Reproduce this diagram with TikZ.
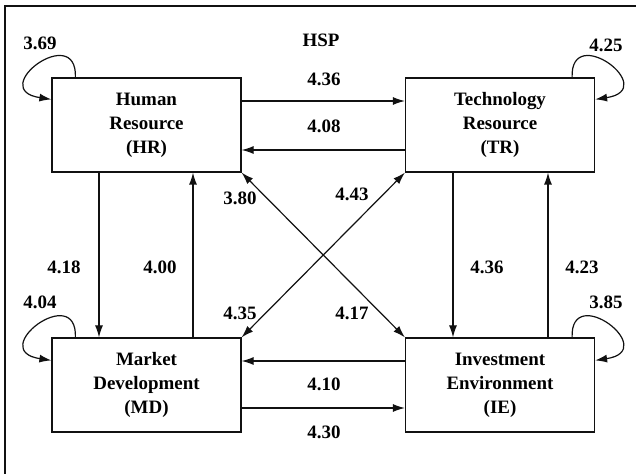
\documentclass[tikz,border=0pt]{standalone}
\usepackage{fontspec}
\setmainfont{Liberation Serif}
\usepackage{xcolor}
\usetikzlibrary{arrows.meta,calc}
\definecolor{hspInk}{HTML}{111111}
\tikzset{
  block/.style={draw=hspInk, line width=1.2bp, minimum width=189bp, minimum height=94bp,
    align=center, inner sep=0pt, font=\bfseries\fontsize{19}{24}\selectfont},
  val/.style={inner sep=0pt, font=\bfseries\fontsize{19}{22}\selectfont},
  link/.style={->, line width=1.2bp, draw=hspInk},
}

\begin{document}
\begin{tikzpicture}[x=1bp, y=-1bp, >={Latex[length=12bp,width=8bp]}]
    \useasboundingbox (0,0) rectangle (636,474);
    \draw[line width=1.1bp, hspInk] (5,474) -- (5,6) -- (636,6);
    \node[val] (title) at (321,40) {HSP};
    % the four factors
    \node[block] (HR) at (146.5,125) {Human\\Resource\\(HR)};
    \node[block] (TR) at (500,125) {Technology\\Resource\\(TR)};
    \node[block] (MD) at (146.5,385) {Market\\Development\\(MD)};
    \node[block] (IE) at (500,385) {Investment\\Environment\\(IE)};
    % horizontal links
    \draw[link] ([yshift=24bp]HR.east) -- ([yshift=24bp]TR.west);
    \draw[link] ([yshift=-25bp]TR.west) -- ([yshift=-25bp]HR.east);
    \draw[link] ([yshift=24bp]IE.west) -- ([yshift=24bp]MD.east);
    \draw[link] ([yshift=-23bp]MD.east) -- ([yshift=-23bp]IE.west);
    % vertical links
    \draw[link] ([xshift=-47.5bp]HR.south) -- ([xshift=-47.5bp]MD.north);
    \draw[link] ([xshift=46.5bp]MD.north) -- ([xshift=46.5bp]HR.south);
    \draw[link] ([xshift=-47bp]TR.south) -- ([xshift=-47bp]IE.north);
    \draw[link] ([xshift=48bp]IE.north) -- ([xshift=48bp]TR.south);
    % diagonals
    \draw[link, <->] (HR.south east) -- (IE.north west);
    \draw[link, <->] (MD.north east) -- (TR.south west);
    % self loops
    \draw[link] ([xshift=24bp]HR.north west) .. controls +(2,-56) and +(-66,-10) .. ([yshift=-22bp]HR.north west);
    \draw[link] ([xshift=24bp]MD.north west) .. controls +(2,-56) and +(-66,-10) .. ([yshift=-23bp]MD.north west);
    \draw[link] ([xshift=-23bp]TR.north east) .. controls +(-2,-56) and +(66,-10) .. ([yshift=-22bp]TR.north east);
    \draw[link] ([xshift=-23bp]IE.north east) .. controls +(-2,-56) and +(66,-10) .. ([yshift=-23bp]IE.north east);
    % values
    \node[val] (vHR) at (40,43) {3.69};
    \node[val] (vTR) at (606,45) {4.25};
    \node[val] (vMD) at (40,302) {4.04};
    \node[val] (vIE) at (606,302) {3.85};
    \node[val] (vHRTR) at (324,79) {4.36};
    \node[val] (vTRHR) at (324,126) {4.08};
    \node[val] (vIEMD) at (324,384) {4.10};
    \node[val] (vMDIE) at (324,432) {4.30};
    \node[val] (vHRMD) at (64,267) {4.18};
    \node[val] (vMDHR) at (160,267) {4.00};
    \node[val] (vTRIE) at (487,267) {4.36};
    \node[val] (vIETR) at (582,267) {4.23};
    \node[val] (vIEHR) at (240,198) {3.80};
    \node[val] (vMDTR) at (352,194) {4.43};
    \node[val] (vTRMD) at (240,313) {4.35};
    \node[val] (vHRIE) at (352,313) {4.17};
  \end{tikzpicture}
\end{document}
